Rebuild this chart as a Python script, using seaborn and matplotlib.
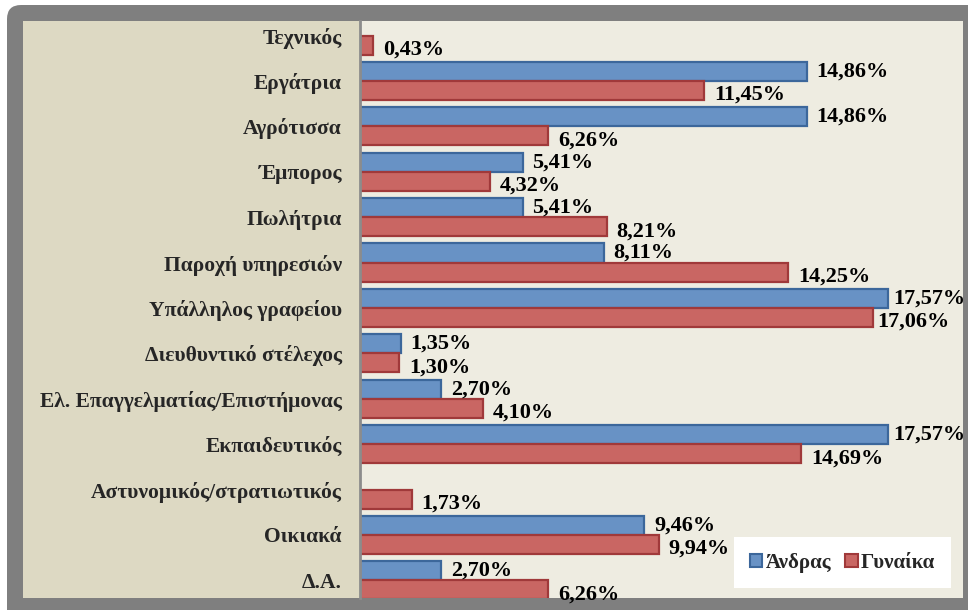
import matplotlib
matplotlib.use("Agg")
import matplotlib.pyplot as plt
import seaborn as sns
import pandas as pd
from matplotlib.patches import FancyBboxPatch, Rectangle, Patch
from matplotlib.transforms import IdentityTransform

# κατηγορίες επαγγελμάτων
categories = ['Τεχνικός', 'Εργάτρια', 'Αγρότισσα', 'Έμπορος', 'Πωλήτρια',
              'Παροχή υπηρεσιών', 'Υπάλληλος γραφείου', 'Διευθυντικό στέλεχος',
              'Ελ. Επαγγελματίας/Επιστήμονας', 'Εκπαιδευτικός',
              'Αστυνομικός/στρατιωτικός', 'Οικιακά', 'Δ.Α.']
men = [0, 14.86, 14.86, 5.41, 5.41, 8.11, 17.57, 1.35, 2.70, 17.57, 0, 9.46, 2.70]
women = [0.43, 11.45, 6.26, 4.32, 8.21, 14.25, 17.06, 1.30, 4.10, 14.69, 1.73, 9.94, 6.26]
series = ['Άνδρας', 'Γυναίκα']

df = pd.DataFrame({
    'cat': categories * 2,
    'val': men + women,
    'sex': [series[0]] * len(men) + [series[1]] * len(women),
})

blue, blue_edge = '#6892C5', '#3C679B'
red, red_edge = '#C96663', '#A0393A'

sns.set_style('white')
plt.rcParams['font.family'] = ['Liberation Serif', 'DejaVu Serif']
plt.rcParams['font.weight'] = 'bold'

W, H = 968, 610
fig = plt.figure(figsize=(W / 100, H / 100), dpi=100)
fig.patch.set_facecolor('white')

# γκρι πλαίσιο και μπεζ περιοχή ετικετών
fig.add_artist(FancyBboxPatch((7, -30), 990, H - 5 + 30,
                              boxstyle='round,pad=0,rounding_size=14',
                              transform=IdentityTransform(),
                              facecolor='#7F7F7F', edgecolor='none', zorder=-2))
fig.add_artist(Rectangle((23, 12), 337, 577, transform=IdentityTransform(),
                         facecolor='#DDD9C3', edgecolor='none', zorder=-1))

ax = fig.add_axes([360 / W, 12 / H, 603 / W, 577 / H])
ax.set_facecolor('#EEECE1')

sns.barplot(data=df, y='cat', x='val', hue='sex', orient='h',
            palette=[blue, red], width=0.84, ax=ax, legend=False,
            linewidth=1.6, saturation=1)

edges = [blue_edge, red_edge]
for ci, cont in enumerate(ax.containers):
    vals = men if ci == 0 else women
    for bar, v in zip(cont, vals):
        bar.set_edgecolor(edges[ci])
        if v == 0:
            bar.set_visible(False)
            continue
        y = bar.get_y() + bar.get_height() / 2 + (0.0 if ci == 0 else 0.1)
        ax.annotate(f"{v:.2f}".replace('.', ',') + '%',
                    xy=(bar.get_width(), y), xytext=(3.5 if v > 17 else 7, 0),
                    textcoords='offset points', va='center', ha='left',
                    fontsize=16, fontweight='bold', color='black',
                    annotation_clip=False)

ax.set_xlim(0, 603 / 30.05)
ax.set_ylim(12.39, -0.32)
ax.set_xlabel('')
ax.set_ylabel('')
ax.set_xticks([])
ax.tick_params(axis='y', length=0, pad=13, labelsize=15.5)
for lbl in ax.get_yticklabels():
    lbl.set_fontweight('bold')
for s in ['top', 'right', 'bottom']:
    ax.spines[s].set_visible(False)
ax.spines['left'].set_color('#8C8C8C')
ax.spines['left'].set_linewidth(2)

handles = [Patch(facecolor=blue, edgecolor=blue_edge, linewidth=1.5),
           Patch(facecolor=red, edgecolor=red_edge, linewidth=1.5)]
leg = ax.legend(handles, series, loc='lower right', bbox_to_anchor=(0.98, 0.017),
                ncol=2, frameon=True, fancybox=False, framealpha=1,
                handlelength=0.6, handleheight=0.6, handletextpad=0.15,
                columnspacing=0.7, borderpad=0.75, borderaxespad=0,
                prop={'family': 'Liberation Serif', 'weight': 'bold', 'size': 15})
leg.get_frame().set_facecolor('white')
leg.get_frame().set_edgecolor('none')

fig.savefig('out.png', dpi=100)
